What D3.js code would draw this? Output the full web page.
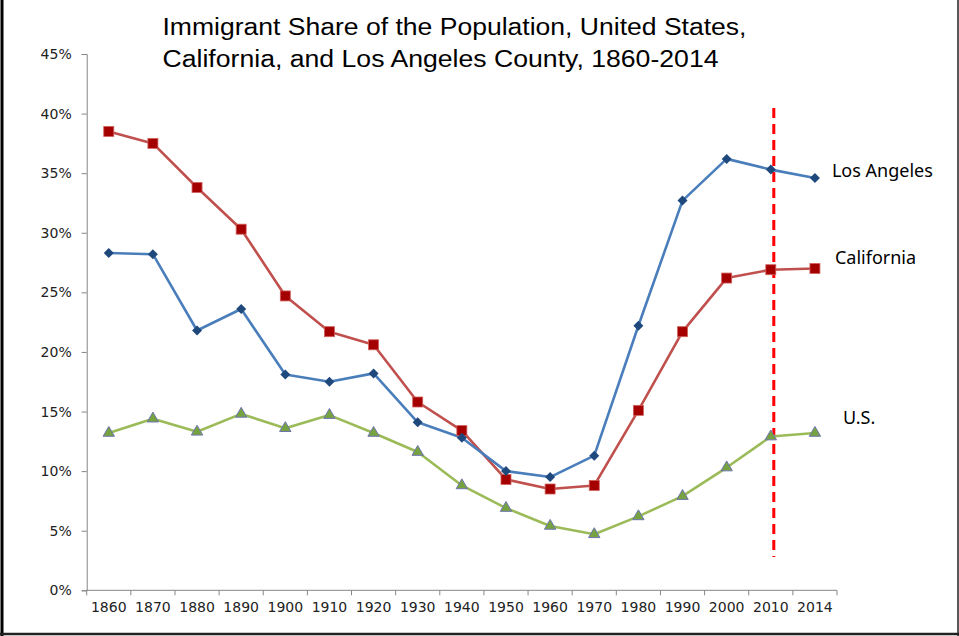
<!DOCTYPE html>
<html>
<head>
<meta charset="utf-8">
<script src="https://cdn.jsdelivr.net/npm/d3@7"></script>
<style>
  html, body { margin: 0; padding: 0; background: #fff; }
  svg { display: block; }
</style>
</head>
<body>
<svg id="chart" width="959" height="636"></svg>
<script>
// ---- Data ----
const years = ["1860","1870","1880","1890","1900","1910","1920","1930","1940","1950","1960","1970","1980","1990","2000","2010","2014"];
const losAngeles = [28.3, 28.2, 21.8, 23.6, 18.1, 17.5, 18.2, 14.1, 12.8, 10.0, 9.5, 11.3, 22.2, 32.7, 36.2, 35.3, 34.6];
const california = [38.5, 37.5, 33.8, 30.3, 24.7, 21.7, 20.6, 15.8, 13.4, 9.3, 8.5, 8.8, 15.1, 21.7, 26.2, 26.9, 27.0];
const unitedStates = [13.2, 14.4, 13.3, 14.8, 13.6, 14.7, 13.2, 11.6, 8.8, 6.9, 5.4, 4.7, 6.2, 7.9, 10.3, 12.9, 13.2];
const yTicks = [0, 5, 10, 15, 20, 25, 30, 35, 40, 45];
const seriesNames = ["Los Angeles", "California", "U.S."];
const titleLines = ["Immigrant Share of the Population, United States,", "California, and Los Angeles County, 1860-2014"];
const markerYear = "2010";

(function () {
const svg = d3.select("#chart");
const W = 959, H = 636;
const mLeft = 86.7, mRight = 837, mTop = 54, mBottom = 590.3;

const x = d3.scaleBand().domain(years).range([mLeft, mRight]).padding(0);
const y = d3.scaleLinear().domain([0, 45]).range([mBottom, mTop]);
const cx = d => x(d) + x.bandwidth() / 2;

// Frame
svg.append("line").attr("x1", 2).attr("x2", 2).attr("y1", 0).attr("y2", H).attr("stroke", "#000").attr("stroke-width", 3);
svg.append("line").attr("x1", 0).attr("x2", W).attr("y1", 634).attr("y2", 634).attr("stroke", "#222").attr("stroke-width", 2.5);
svg.append("line").attr("x1", 958).attr("x2", 958).attr("y1", 0).attr("y2", H).attr("stroke", "#222").attr("stroke-width", 1.5);

// Title
const titleWidths = [584, 556];
titleLines.forEach((t, i) => {
  svg.append("text")
    .attr("x", 162.5).attr("y", 35 + i * 31.7)
    .attr("textLength", titleWidths[i]).attr("lengthAdjust", "spacingAndGlyphs")
    .style("font-family", "'Liberation Sans', Arial, sans-serif")
    .style("font-size", "23.5px").style("fill", "#000")
    .text(t);
});

const tickFont = t => t.style("font-family", "'DejaVu Sans', Verdana, sans-serif").style("font-size", "14px").style("fill", "#222");

// Y axis
const yAxis = d3.axisLeft(y).tickValues(yTicks).tickSize(5).tickPadding(10).tickFormat(d => d + "%");
const gy = svg.append("g").attr("transform", `translate(${mLeft},0)`).call(yAxis);
gy.select(".domain").attr("stroke", "#868686");
gy.selectAll(".tick line").attr("stroke", "#868686");
tickFont(gy.selectAll(".tick text"));

// X axis
const xAxis = d3.axisBottom(x).tickSize(0).tickPadding(12);
const gx = svg.append("g").attr("transform", `translate(0,${mBottom})`).call(xAxis);
gx.select(".domain").attr("stroke", "#868686").attr("d", `M${mLeft},0H${mRight}`);
tickFont(gx.selectAll(".tick text"));
const boundaries = years.map(d => x(d)).concat([x(years[years.length - 1]) + x.bandwidth()]);
gx.selectAll("line.bt").data(boundaries).enter().append("line").attr("class", "bt")
  .attr("x1", d => d).attr("x2", d => d).attr("y1", 0).attr("y2", 5).attr("stroke", "#868686");

// Dashed red line
svg.append("line")
  .attr("x1", cx(markerYear) + 3).attr("x2", cx(markerYear) + 3)
  .attr("y1", 108).attr("y2", 557)
  .attr("stroke", "#FF0000").attr("stroke-width", 3).attr("stroke-dasharray", "10,6");

// Lines
const line = vals => d3.line().x((d, i) => cx(years[i])).y(d => y(d))(vals);
const series = [
  { vals: unitedStates, line: "#9BBB59" },
  { vals: california, line: "#C0504D" },
  { vals: losAngeles, line: "#4A7EBB" }
];
series.forEach(s => {
  svg.append("path").attr("d", line(s.vals)).attr("fill", "none")
    .attr("stroke", s.line).attr("stroke-width", 2.6).attr("stroke-linejoin", "round");
});

// Markers
svg.append("g").selectAll("path").data(unitedStates).enter().append("path")
  .attr("d", d3.symbol().type(d3.symbolTriangle).size(56))
  .attr("transform", (d, i) => `translate(${cx(years[i])},${y(d)})`)
  .attr("fill", "#76A23F").attr("stroke", "#6F74B0").attr("stroke-width", 1);
svg.append("g").selectAll("rect").data(california).enter().append("rect")
  .attr("x", (d, i) => cx(years[i]) - 5).attr("y", d => y(d) - 5)
  .attr("width", 10).attr("height", 10)
  .attr("fill", "#A50000").attr("stroke", "#D0605D").attr("stroke-width", 0.8);
svg.append("g").selectAll("path").data(losAngeles).enter().append("path")
  .attr("d", "M0,-5L5,0L0,5L-5,0Z")
  .attr("transform", (d, i) => `translate(${cx(years[i])},${y(d)})`)
  .attr("fill", "#1F497D");

// Series labels
const last = years.length - 1;
[
  { text: seriesNames[0], v: losAngeles[last], dx: 17, dy: -0.5 },
  { text: seriesNames[1], v: california[last], dx: 20, dy: -5 },
  { text: seriesNames[2], v: unitedStates[last], dx: 28, dy: -9 }
].forEach(l => {
  svg.append("text").attr("x", cx(years[last]) + l.dx).attr("y", y(l.v) + l.dy)
    .style("font-family", "'Noto Sans', 'Open Sans', sans-serif").style("font-size", "18px").style("fill", "#000")
    .text(l.text);
});
})();
</script>
</body>
</html>
